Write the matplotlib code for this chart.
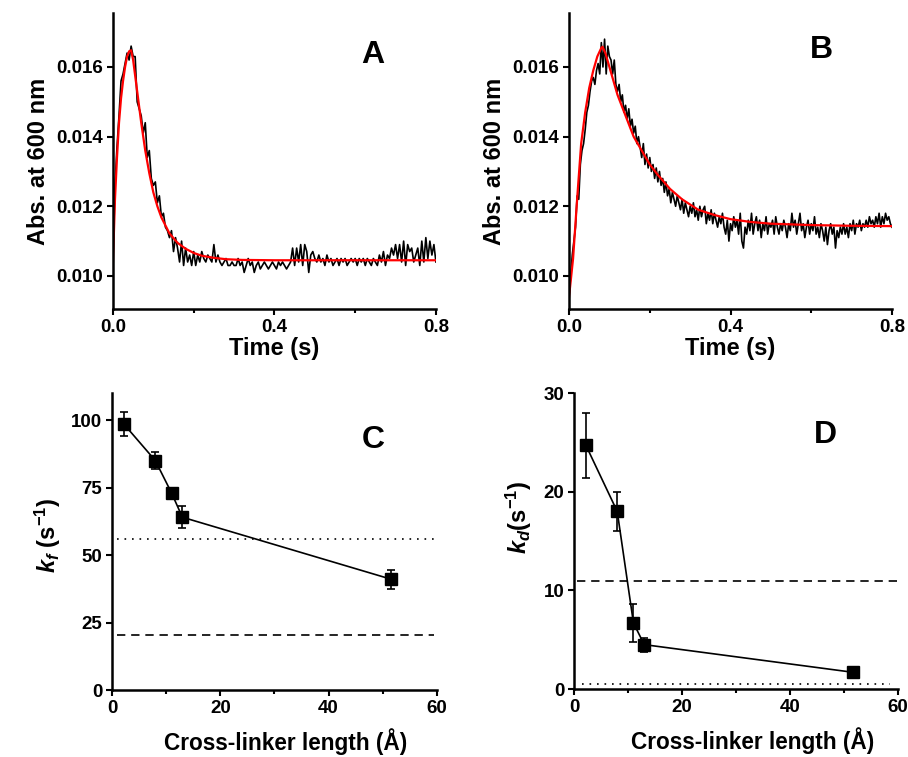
import matplotlib
matplotlib.use("Agg")
import matplotlib.pyplot as plt
from matplotlib.ticker import MultipleLocator
import numpy as np

plt.rcParams['font.family'] = ['Liberation Sans', 'DejaVu Sans']
plt.rcParams['font.weight'] = 'bold'
plt.rcParams['mathtext.fontset'] = 'custom'
plt.rcParams['mathtext.rm'] = 'Liberation Sans:bold'
plt.rcParams['mathtext.it'] = 'Liberation Sans:bold:italic'
plt.rcParams['mathtext.bf'] = 'Liberation Sans:bold'

# ---- panel A: stopped-flow trace (step 0.005 s) and fit ----
a_step = 0.005
a_trace = [
    0.0104, 0.0126, 0.0137, 0.0146, 0.0156, 0.0158, 0.0161, 0.0164, 0.0162, 0.0166,
    0.0163, 0.0163, 0.0150, 0.0148, 0.0146, 0.0141, 0.0144, 0.0134, 0.0136, 0.0128,
    0.0126, 0.0127, 0.0121, 0.0123, 0.0117, 0.0118, 0.0114, 0.0113, 0.0111, 0.0113,
    0.0107, 0.0111, 0.0108, 0.0104, 0.0110, 0.0103, 0.0108, 0.0104, 0.0106, 0.0103,
    0.0107, 0.0103, 0.0106, 0.0104, 0.0107, 0.0105, 0.0104, 0.0106, 0.0105, 0.0104,
    0.0109, 0.0104, 0.0106, 0.0104, 0.0103, 0.0104, 0.0105, 0.0103, 0.0103, 0.0104,
    0.0103, 0.0103, 0.0105, 0.0103, 0.0104, 0.0101, 0.0103, 0.0105, 0.0103, 0.0104,
    0.0101, 0.0103, 0.0104, 0.0102, 0.0103, 0.0104, 0.0103, 0.0102, 0.0103, 0.0104,
    0.0103, 0.0102, 0.0104, 0.0103, 0.0104, 0.0103, 0.0102, 0.0103, 0.0104, 0.0108,
    0.0103, 0.0108, 0.0104, 0.0109, 0.0103, 0.0109, 0.0107, 0.0101, 0.0106, 0.0107,
    0.0105, 0.0104, 0.0106, 0.0104, 0.0105, 0.0103, 0.0106, 0.0104, 0.0105, 0.0103,
    0.0104, 0.0105, 0.0103, 0.0105, 0.0104, 0.0105, 0.0103, 0.0104, 0.0105, 0.0104,
    0.0105, 0.0103, 0.0105, 0.0104, 0.0105, 0.0103, 0.0105, 0.0104, 0.0103, 0.0105,
    0.0104, 0.0103, 0.0106, 0.0104, 0.0107, 0.0103, 0.0106, 0.0105, 0.0108, 0.0106,
    0.0109, 0.0105, 0.0109, 0.0104, 0.0110, 0.0103, 0.0109, 0.0107, 0.0108, 0.0104,
    0.0106, 0.0108, 0.0103, 0.0110, 0.0104, 0.0111, 0.0105, 0.0110, 0.0106, 0.0109,
    0.0104,
]
a_fit_t = [0, 0.005, 0.01, 0.015, 0.02, 0.025, 0.03, 0.035, 0.04, 0.045, 0.05, 0.06,
           0.07, 0.08, 0.09, 0.10, 0.11, 0.12, 0.14, 0.16, 0.18, 0.20, 0.22, 0.25,
           0.28, 0.32, 0.4, 0.5, 0.6, 0.7, 0.8]
a_fit = [0.0104, 0.0122, 0.0134, 0.0144, 0.0151, 0.0156, 0.0160, 0.0163, 0.01645,
         0.01648, 0.0162, 0.0153, 0.0144, 0.0136, 0.01295, 0.0124, 0.0120, 0.01168,
         0.01122, 0.01095, 0.01078, 0.01066, 0.01058, 0.01052, 0.01048, 0.01046,
         0.01045, 0.01045, 0.01045, 0.01045, 0.01045]

# ---- panel B: trace (step 0.004 s) and fit ----
b_step = 0.004
b_trace = [
    0.0094, 0.0100, 0.0106, 0.0110, 0.0114, 0.0123, 0.0122, 0.0132, 0.0136, 0.0138,
    0.0142, 0.0147, 0.0149, 0.0153, 0.0156, 0.0157, 0.0155, 0.0159, 0.0161, 0.0158,
    0.0167, 0.0160, 0.0168, 0.0158, 0.0166, 0.0163, 0.0162, 0.0158, 0.0162, 0.0155,
    0.0153, 0.0155, 0.0150, 0.0152, 0.0147, 0.0149, 0.0145, 0.0148, 0.0143, 0.0145,
    0.0141, 0.0143, 0.0138, 0.0140, 0.0137, 0.0134, 0.0138, 0.0132, 0.0135, 0.0131,
    0.0134, 0.0130, 0.0132, 0.0128, 0.0131, 0.0127, 0.0130, 0.0126, 0.0128, 0.0124,
    0.0127, 0.0123, 0.0125, 0.0121, 0.0124, 0.0122, 0.0120, 0.0123, 0.0121, 0.0119,
    0.0122, 0.0118, 0.0121, 0.0119, 0.0117, 0.0120, 0.0118, 0.0121, 0.0117, 0.0119,
    0.0116, 0.0120, 0.0117, 0.0119, 0.0120, 0.0115, 0.0118, 0.0116, 0.0119, 0.0115,
    0.0118, 0.0116, 0.0114, 0.0117, 0.0115, 0.0118, 0.0114, 0.0112, 0.0116, 0.0110,
    0.0115, 0.0113, 0.0117, 0.0114, 0.0116, 0.0112, 0.0118, 0.0110, 0.0108, 0.0114,
    0.0112, 0.0116, 0.0113, 0.0118, 0.0112, 0.0115, 0.0117, 0.0113, 0.0116, 0.0111,
    0.0115, 0.0113, 0.0117, 0.0112, 0.0115, 0.0114, 0.0116, 0.0112, 0.0117, 0.0114,
    0.0112, 0.0115, 0.0113, 0.0116, 0.0114, 0.0111, 0.0115, 0.0113, 0.0118, 0.0114,
    0.0116, 0.0112, 0.0115, 0.0118, 0.0113, 0.0115, 0.0111, 0.0114, 0.0116, 0.0112,
    0.0115, 0.0113, 0.0117, 0.0112, 0.0114, 0.0111, 0.0115, 0.0113, 0.0110, 0.0114,
    0.0109, 0.0113, 0.0115, 0.0112, 0.0114, 0.0108, 0.0113, 0.0111, 0.0114, 0.0112,
    0.0115, 0.0112, 0.0114, 0.0111, 0.0115, 0.0113, 0.0116, 0.0112, 0.0115, 0.0114,
    0.0116, 0.0113, 0.0115, 0.0114, 0.0116, 0.0114, 0.0117, 0.0115, 0.0116, 0.0114,
    0.0117, 0.0115, 0.0118, 0.0114, 0.0117, 0.0115, 0.0118, 0.0116, 0.0117, 0.0115,
    0.0114,
]
b_fit_t = [0, 0.01, 0.02, 0.03, 0.04, 0.05, 0.06, 0.07, 0.08, 0.083, 0.09, 0.10, 0.12,
           0.14, 0.16, 0.18, 0.20, 0.22, 0.25, 0.28, 0.32, 0.36, 0.40, 0.45, 0.50,
           0.6, 0.7, 0.8]
b_fit = [0.0094, 0.0105, 0.0122, 0.0138, 0.0147, 0.0154, 0.0159, 0.0163, 0.01655,
         0.01658, 0.0164, 0.0160, 0.0152, 0.0146, 0.0140, 0.0136, 0.0132, 0.0129,
         0.0125, 0.0122, 0.0119, 0.01175, 0.01163, 0.01155, 0.0115, 0.01146,
         0.01144, 0.01143]

# ---- panels C and D: rate constants vs cross-linker length ----
linker_len = [2.2, 8.0, 11.0, 13.0, 51.6]
kf = [98.5, 85.0, 73.0, 64.0, 41.0]
kf_err = [4.5, 3.0, 1.0, 4.0, 3.5]
kd = [24.7, 18.0, 6.7, 4.5, 1.7]
kd_err = [3.3, 2.0, 1.9, 0.7, 0.3]
kf_dotted, kf_dashed = 56.0, 20.3
kd_dashed, kd_dotted = 10.9, 0.55

fig = plt.figure(figsize=(9.08, 7.57), dpi=100)
axA = fig.add_axes([0.1244, 0.5918, 0.3557, 0.391])
axB = fig.add_axes([0.6267, 0.5918, 0.3557, 0.391])
axC = fig.add_axes([0.1233, 0.0885, 0.3579, 0.3923])
axD = fig.add_axes([0.6322, 0.0898, 0.3568, 0.391])


def style(ax):
    for s in ['top', 'right']:
        ax.spines[s].set_visible(False)
    for s in ['left', 'bottom']:
        ax.spines[s].set_linewidth(1.8)
    ax.tick_params(which='major', direction='out', length=4, width=1.5,
                   labelsize=13.5, pad=3)
    ax.tick_params(which='minor', direction='out', length=3, width=1.5)
    for lab in ax.get_xticklabels() + ax.get_yticklabels():
        lab.set_fontweight('bold')


# traces
for ax, trace, step, ft, fv in [(axA, a_trace, a_step, a_fit_t, a_fit),
                                (axB, b_trace, b_step, b_fit_t, b_fit)]:
    t = np.arange(len(trace)) * step
    ax.plot(t, trace, color='black', lw=1.2)
    ax.plot(ft, fv, color='red', lw=1.6)
    ax.set_xlim(0, 0.8)
    ax.set_ylim(0.00905, 0.01755)
    ax.xaxis.set_minor_locator(MultipleLocator(0.2))
    ax.set_yticks([0.010, 0.012, 0.014, 0.016])
    ax.set_xticks([0.0, 0.4, 0.8])
    ax.set_xticklabels(['0.0', '0.4', '0.8'])
    ax.set_yticklabels(['0.010', '0.012', '0.014', '0.016'])
    ax.set_xlabel('Time (s)', fontsize=17, fontweight='bold', labelpad=1)
    ax.set_ylabel('Abs. at 600 nm', fontsize=17, fontweight='bold', labelpad=5)
    style(ax)

# rate constants
for ax, vals, errs, lines, yl, yt in [
        (axC, kf, kf_err, [(kf_dotted, (0, (1, 3.5)), 1.0, 59.5),
                           (kf_dashed, (0, (5, 3.5)), 1.0, 59.5)],
         (0, 110), [0, 25, 50, 75, 100]),
        (axD, kd, kd_err, [(kd_dashed, (0, (5, 3.5)), 0.5, 59.8),
                           (kd_dotted, (0, (1, 3.5)), 1.5, 58.5)],
         (0, 30), [0, 10, 20, 30])]:
    for yv, ls, x0, x1 in lines:
        ax.plot([x0, x1], [yv, yv], color='black', lw=1.2, linestyle=ls)
    ax.errorbar(linker_len, vals, yerr=errs, color='black', lw=1.2, marker='s',
                markersize=8, capsize=3, elinewidth=1.2, capthick=1.2)
    ax.set_xlim(0, 60)
    ax.set_ylim(*yl)
    ax.set_yticks(yt)
    ax.set_xticks([0, 20, 40, 60])
    ax.xaxis.set_minor_locator(MultipleLocator(10))
    ax.set_xlabel('Cross-linker length (\u00c5)', fontsize=16.3, fontweight='bold')
    style(ax)

axC.xaxis.set_label_coords(0.535, -0.13)
axD.xaxis.set_label_coords(0.55, -0.13)
axC.set_ylabel(r'$k_f$ (s$^{-1}$)', fontsize=17, fontweight='bold')
axD.set_ylabel(r'$k_d$(s$^{-1}$)', fontsize=17, fontweight='bold')
axC.yaxis.set_label_coords(-0.15, 0.52)
axD.yaxis.set_label_coords(-0.125, 0.58)

# panel letters
for x, y, s in [(0.411, 0.927, 'A'), (0.905, 0.934, 'B'),
                (0.411, 0.419, 'C'), (0.909, 0.425, 'D')]:
    fig.text(x, y, s, fontsize=23, fontweight='bold', ha='center', va='center')

fig.savefig('out.png', dpi=100)
